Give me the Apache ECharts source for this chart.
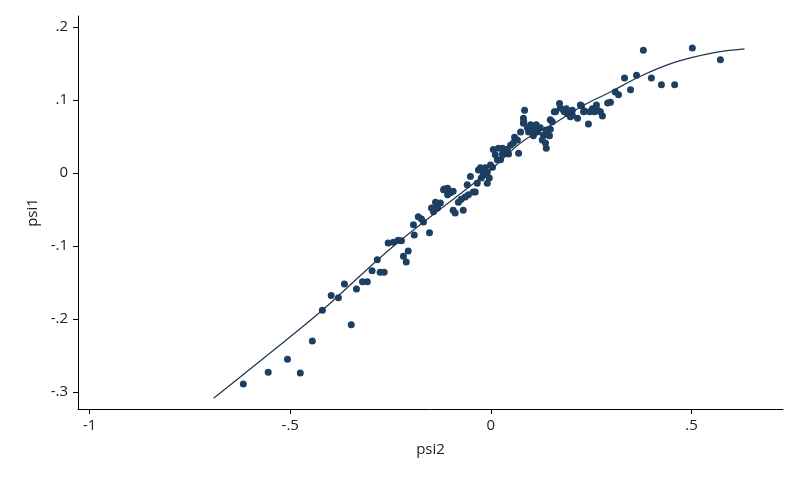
<!DOCTYPE html>
<html>
<head>
<meta charset="utf-8">
<script src="https://cdn.jsdelivr.net/npm/echarts@6/dist/echarts.min.js"></script>
<style>
html,body{margin:0;padding:0;background:#fff;}
#chart{width:800px;height:480px;}
</style>
</head>
<body>
<div id="chart"></div>
<script>
// scatter observations (psi2, psi1)
var psi2 = [
 -0.617,-0.555,-0.507,-0.475,-0.445,-0.420,-0.398,-0.380,-0.365,-0.348,-0.335,-0.320,-0.308,-0.296,-0.276,-0.266,-0.283,
 -0.256,-0.243,-0.231,-0.218,-0.211,-0.206,-0.191,-0.193,-0.181,-0.168,-0.153,-0.143,-0.138,-0.126,-0.116,-0.101,-0.094,
 -0.089,-0.081,-0.069,-0.064,-0.059,-0.051,-0.039,-0.034,-0.019,-0.009,-0.044,-0.031,-0.019,-0.009,0.004,0.006,0.016,
 0.019,0.031,0.041,0.049,0.056,0.066,0.069,0.074,0.081,0.099,0.106,0.123,0.128,0.131,0.136,0.138,0.143,-0.026,-0.001,
 0.024,-0.118,-0.108,-0.133,
 0.380,0.502,0.572,0.333,0.363,0.400,0.425,0.458,0.348,0.310,0.318,0.298,0.291,0.263,0.273,0.278,0.243,0.258,0.246,
 0.233,0.226,0.203,0.216,0.203,0.191,0.183,0.171,0.158,0.148,0.148,0.146,0.084,0.081,0.103,0.116,0.094,0.106,0.036,
 0.029,0.161,0.153,0.116,0.198,0.181,0.223,0.231,0.082,
 -0.223,-0.173,-0.133,-0.148,-0.108,-0.094,-0.074,-0.056,-0.024,-0.014,-0.004,0.011,0.029,0.044,0.059,0.091,0.113,
 0.138,0.173,0.188,0.253,0.266
];
var psi1 = [
 -0.289,-0.273,-0.255,-0.274,-0.230,-0.188,-0.168,-0.171,-0.152,-0.208,-0.159,-0.149,-0.149,-0.134,-0.136,-0.136,-0.119,
 -0.096,-0.095,-0.092,-0.114,-0.122,-0.107,-0.085,-0.071,-0.060,-0.067,-0.082,-0.053,-0.040,-0.041,-0.022,-0.027,-0.051,
 -0.055,-0.040,-0.051,-0.033,-0.016,-0.005,-0.026,-0.014,-0.003,0.001,-0.026,0.004,0.000,-0.014,0.008,0.032,0.018,
 0.034,0.027,0.032,0.038,0.041,0.045,0.027,0.056,0.068,0.066,0.059,0.062,0.045,0.052,0.041,0.034,0.052,0.007,0.011,
 0.018,-0.023,-0.030,-0.048,
 0.168,0.171,0.155,0.130,0.134,0.130,0.121,0.121,0.114,0.111,0.107,0.097,0.096,0.093,0.084,0.078,0.067,0.084,0.084,
 0.085,0.092,0.086,0.075,0.079,0.081,0.084,0.095,0.084,0.073,0.060,0.051,0.086,0.075,0.063,0.059,0.056,0.051,0.032,
 0.026,0.084,0.070,0.056,0.077,0.086,0.093,0.084,0.070,
 -0.093,-0.063,-0.044,-0.048,-0.021,-0.025,-0.036,-0.030,-0.007,0.007,-0.007,0.025,0.034,0.026,0.049,0.062,0.066,
 0.059,0.089,0.088,0.088,0.086
];
// fitted curve
var fitX = [-0.691,-0.558,-0.4195,-0.248,-0.001,0.078,0.165,0.232,0.298,0.374,0.4576,0.557,0.632];
var fitY = [-0.3086,-0.250,-0.1877,-0.1027,0.0041,0.0429,0.0703,0.0932,0.111,0.1329,0.1515,0.1648,0.1699];
// tick labels
var xTicks = [-1,-0.5,0,0.5];
var yTicks = [-0.3,-0.2,-0.1,0,0.1,0.2];

function stataFmt(v){
  var s = String(+(+v).toFixed(2));
  return s.replace(/^0\./,'.').replace(/^-0\./,'-.');
}
var scatterData = psi2.map(function(x,i){return [x, psi1[i]];});
var fitData = fitX.map(function(x,i){return [x, fitY[i]];});

var chart = echarts.init(document.getElementById('chart'), null, {renderer:'canvas'});
var font = 'Open Sans, Noto Sans, DejaVu Sans, sans-serif';
chart.setOption({
  animation:false,
  backgroundColor:'#ffffff',
  grid:{left:78,right:17,top:16,bottom:71},
  xAxis:{
    type:'value', min:-1.029, max:0.728,
    name:'psi2', nameLocation:'middle', nameGap:33,
    nameTextStyle:{color:'#222',fontSize:15,fontFamily:font},
    axisLine:{show:true,onZero:false,lineStyle:{color:'#000',width:1}},
    axisTick:{show:true,length:5,lineStyle:{color:'#000'},customValues:xTicks},
    axisLabel:{color:'#222',fontSize:15,fontFamily:font,margin:9,customValues:xTicks,formatter:stataFmt},
    splitLine:{show:false}
  },
  yAxis:{
    type:'value', min:-0.3233, max:0.215,
    name:'psi1', nameLocation:'middle', nameGap:31,
    nameTextStyle:{color:'#222',fontSize:15,fontFamily:font},
    axisLine:{show:true,onZero:false,lineStyle:{color:'#000',width:1}},
    axisTick:{show:true,length:5,lineStyle:{color:'#000'},customValues:yTicks},
    axisLabel:{color:'#222',fontSize:15,fontFamily:font,margin:10,customValues:yTicks,formatter:stataFmt},
    splitLine:{show:false}
  },
  series:[
    {type:'scatter',data:scatterData,symbol:'circle',symbolSize:7,
     itemStyle:{color:'#1c3f62',opacity:1},z:2},
    {type:'line',data:fitData,smooth:0.35,showSymbol:false,symbol:'none',
     lineStyle:{color:'#1e3550',width:1.2},z:3}
  ]
});
</script>
</body>
</html>
